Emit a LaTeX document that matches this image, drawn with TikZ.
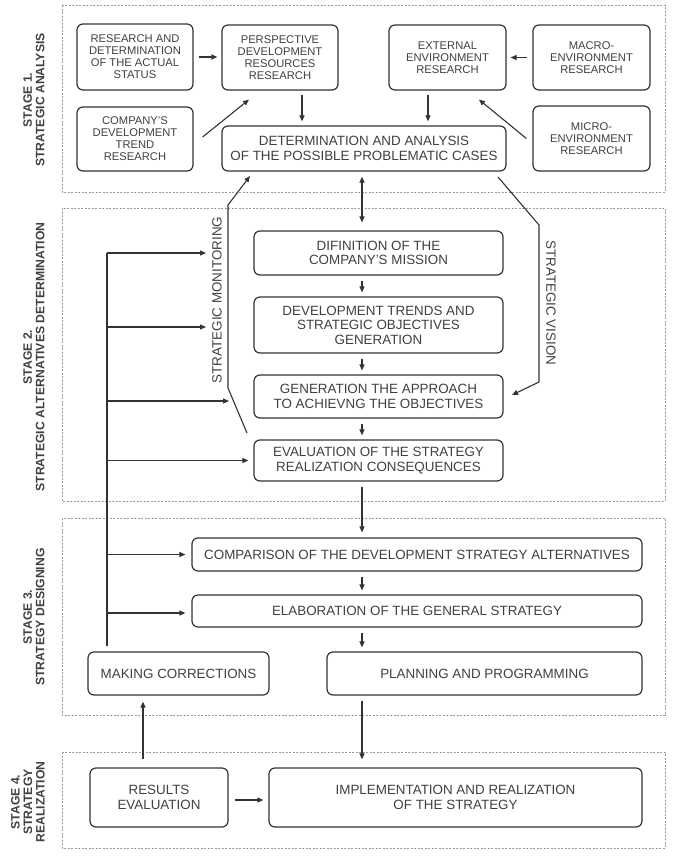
\documentclass[tikz,border=0pt]{standalone}
\usepackage{fontspec}
\setmainfont{Liberation Sans}
\usetikzlibrary{arrows.meta,calc}
\definecolor{ln}{HTML}{333333}
\definecolor{tx}{HTML}{404040}
\definecolor{fr}{HTML}{9A9A9A}
\begin{document}
\begin{tikzpicture}[x=1pt,y=-1pt,
 box/.style={draw=ln, line width=1.2pt, rounded corners=6pt, align=center, text=tx, inner sep=0pt, font=\fontsize{13.4}{14.5}\selectfont},
 sbox/.style={box, font=\fontsize{11.2}{12}\selectfont},
 conn/.style={draw=ln, line width=1.1pt},
 arr/.style={conn, -{Triangle[length=6pt,width=5pt]}},
 darr/.style={conn, {Triangle[length=6pt,width=5pt]}-{Triangle[length=6pt,width=5pt]}},
 frame/.style={draw=fr, line width=1pt, dash pattern=on 2pt off 1.5pt},
 stagelbl/.style={rotate=90, align=center, text=tx, font=\bfseries\fontsize{12.2}{12.5}\selectfont, inner sep=0pt},
 sidelbl/.style={align=center, text=tx, font=\fontsize{13.4}{14}\selectfont, inner sep=0pt}
]
\useasboundingbox (0,0) rectangle (674,857);

% stage frames
\draw[frame] (62,5) rectangle (665,192);
\draw[frame] (62,208) rectangle (665,501);
\draw[frame] (62,518) rectangle (665,715);
\draw[frame] (62,752) rectangle (665,848);

% stage labels
\node[stagelbl] (l1) at (34,100) {STAGE 1.\\STRATEGIC ANALYSIS};
\node[stagelbl] (l2) at (34,357) {STAGE 2.\\STRATEGIC ALTERNATIVES DETERMINATION};
\node[stagelbl] (l3) at (34,617) {STAGE 3.\\STRATEGY DESIGNING};
\node[stagelbl] (l4) at (28,802) {STAGE 4.\\STRATEGY\\REALIZATION};

% stage 1
\node[sbox, minimum width=116pt, minimum height=66pt] (r1) at (135,57) {RESEARCH AND\\DETERMINATION\\OF THE ACTUAL\\STATUS};
\node[sbox, minimum width=116pt, minimum height=65pt] (r2) at (280,57.5) {PERSPECTIVE\\DEVELOPMENT\\RESOURCES\\RESEARCH};
\node[sbox, minimum width=116pt, minimum height=64pt] (r3) at (135,139) {COMPANY'S\\DEVELOPMENT\\TREND\\RESEARCH};
\node[box, minimum width=284pt, minimum height=45pt] (r4) at (364,148.5) {DETERMINATION AND ANALYSIS\\OF THE POSSIBLE PROBLEMATIC CASES};
\node[sbox, minimum width=117pt, minimum height=65pt] (r5) at (447.5,57.5) {EXTERNAL\\ENVIRONMENT\\RESEARCH};
\node[sbox, minimum width=117pt, minimum height=65pt] (r6) at (591.5,57.5) {MACRO-\\ENVIRONMENT\\RESEARCH};
\node[sbox, minimum width=117pt, minimum height=65pt] (r7) at (591.5,138.5) {MICRO-\\ENVIRONMENT\\RESEARCH};

% stage 2
\node[box, minimum width=249pt, minimum height=44pt] (d1) at (378.5,253) {DIFINITION OF THE\\COMPANY'S MISSION};
\node[box, minimum width=249pt, minimum height=56pt] (d2) at (378.5,325) {DEVELOPMENT TRENDS AND\\STRATEGIC OBJECTIVES\\GENERATION};
\node[box, minimum width=249pt, minimum height=43pt] (d3) at (378.5,396.5) {GENERATION THE APPROACH\\TO ACHIEVNG THE OBJECTIVES};
\node[box, minimum width=249pt, minimum height=41pt] (d4) at (378.5,460.5) {EVALUATION OF THE STRATEGY\\REALIZATION CONSEQUENCES};

% stage 3
\node[box, minimum width=450pt, minimum height=33pt] (c1) at (417,554.5) {COMPARISON OF THE DEVELOPMENT STRATEGY ALTERNATIVES};
\node[box, minimum width=450pt, minimum height=32pt] (c2) at (417,611) {ELABORATION OF THE GENERAL STRATEGY};
\node[box, minimum width=181pt, minimum height=43pt] (c3) at (178.5,673.5) {MAKING CORRECTIONS};
\node[box, minimum width=315pt, minimum height=43pt] (c4) at (484.5,673.5) {PLANNING AND PROGRAMMING};

% stage 4
\node[box, minimum width=138pt, minimum height=59pt] (s1) at (159,797.5) {RESULTS\\EVALUATION};
\node[box, minimum width=373pt, minimum height=59pt] (s2) at (455.5,797.5) {IMPLEMENTATION AND REALIZATION\\OF THE STRATEGY};

% side labels
\node[sidelbl, rotate=90] (lm) at (217,300) {STRATEGIC MONITORING};
\node[sidelbl, rotate=-90] (lv) at (551,303) {STRATEGIC VISION};

% stage 1 connectors
\draw[arr, shorten <=5pt, shorten >=4pt] (r1.east |- 0,57) -- (r2.west |- 0,57);
\draw[arr] ($(r3.east)+(9,-2)$) -- ($(r2.south)+(-31,9)$);
\draw[arr, shorten <=4pt, shorten >=4pt] ($(r2.south)+(22,0)$) -- ($(r4.north)+(-62,0)$);
\draw[arr, shorten <=4pt, shorten >=4pt] ($(r5.south)+(-19.5,0)$) -- ($(r4.north)+(64,0)$);
\draw[arr, shorten <=5pt, shorten >=4pt] (r6.west) -- (r5.east);
\draw[arr] ($(r7.west)+(-6,0)$) -- ($(r5.south)+(31.5,9)$);

% main column
\coordinate (ax) at (362,0);
\draw[darr, shorten <=5pt, shorten >=8pt] (r4.south -| ax) -- (d1.north -| ax);
\draw[arr, shorten <=5pt, shorten >=4pt] (d1.south -| ax) -- (d2.north -| ax);
\draw[arr, shorten <=5pt, shorten >=4pt] (d2.south -| ax) -- (d3.north -| ax);
\draw[arr, shorten <=5pt, shorten >=4pt] (d3.south -| ax) -- (d4.north -| ax);
\draw[arr, shorten <=5pt, shorten >=5pt] (d4.south -| ax) -- (c1.north -| ax);
\draw[arr, shorten <=5pt, shorten >=4pt] (c1.south -| ax) -- (c2.north -| ax);
\draw[arr, shorten <=5pt, shorten >=4pt] (c2.south -| ax) -- (c4.north -| ax);
\draw[arr, shorten <=5pt, shorten >=8pt] (c4.south -| ax) -- (s2.north -| ax);

% stage 4 connectors
\draw[arr, shorten <=6pt, shorten >=5pt] (s1.east |- 0,800) -- (s2.west |- 0,800);
\draw[arr, shorten <=8pt, shorten >=6pt] ($(s1.north)+(-16,0)$) -- ($(c3.south)+(-35.5,0)$);

% feedback line
\coordinate (fb) at (107,0);
\coordinate (t1) at (206,253);
\coordinate (t2) at (206,327);
\coordinate (t3) at (229,401);
\draw[conn, shorten <=5pt] (c3.north -| fb) -- (fb |- t1);
\draw[arr] (fb |- t1) -- (t1);
\draw[arr] (fb |- t2) -- (t2);
\draw[arr] (fb |- t3) -- (t3);
\draw[arr, shorten >=5pt] (fb |- d4.west) -- (d4.west);
\draw[arr, shorten >=6pt] (fb |- c1.west) -- (c1.west);
\draw[arr, shorten >=6pt] (fb |- 0,613) -- (c2.west |- 0,613);

% strategic monitoring
\coordinate (m1) at (247,433);
\coordinate (m2) at (228,388);
\coordinate (m3) at (228,205);
\coordinate (m4) at (250,176);
\draw[arr] (m1) -- (m2) -- (m3) -- (m4);

% strategic vision
\coordinate (v1) at (498,177);
\coordinate (v2) at (539,225);
\coordinate (v3) at (539,382);
\coordinate (v4) at (512,395);
\draw[arr] (v1) -- (v2) -- (v3) -- (v4);
\end{tikzpicture}
\end{document}
